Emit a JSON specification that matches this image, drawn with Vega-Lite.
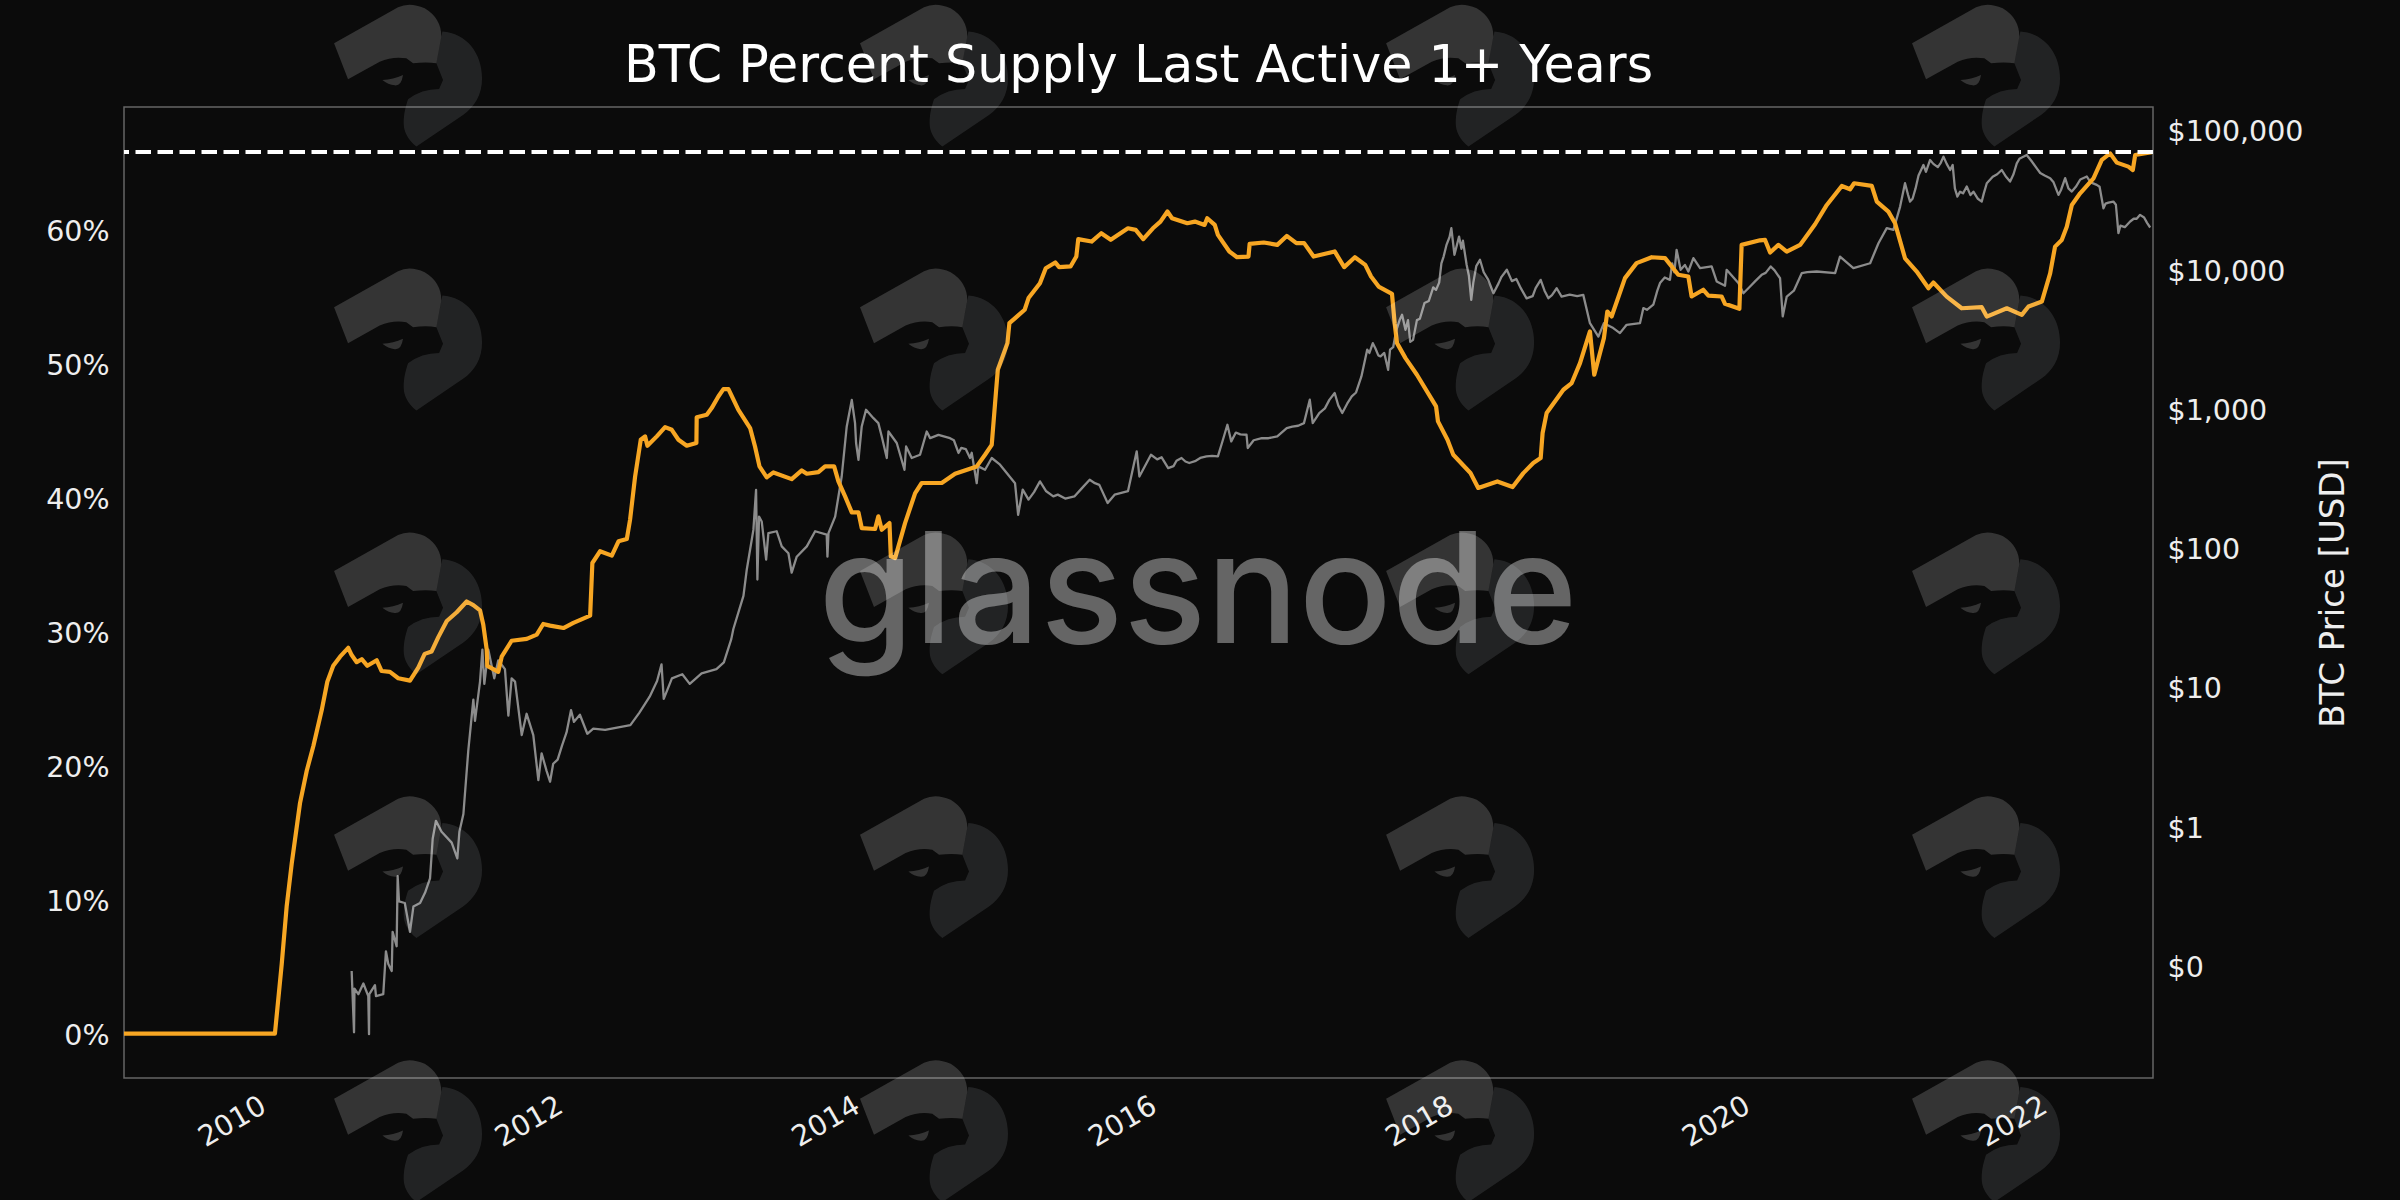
{
  "$schema": "https://vega.github.io/schema/vega-lite/v6.json",
  "background": "#0b0b0b",
  "autosize": {"type": "none"},
  "padding": {"left": 124, "top": 107, "right": 247, "bottom": 122},
  "width": 2029,
  "height": 971,
  "title": {"text": "BTC Percent Supply Last Active 1+ Years", "anchor": "middle", "font": "DejaVu Sans", "fontSize": 50.7, "fontWeight": "normal", "color": "#ffffff", "offset": -88},
  "config": {"view": {"stroke": "#666666", "strokeWidth": 1.5}},
  "datasets": {
    "price": [
      {"year":2010.542,"price":0.091},{"year":2010.558,"price":0.033},{"year":2010.561,"price":0.068},{"year":2010.587,"price":0.062},{"year":2010.621,"price":0.074},{"year":2010.654,"price":0.06},{"year":2010.659,"price":0.032},{"year":2010.661,"price":0.062},{"year":2010.699,"price":0.072},{"year":2010.706,"price":0.06},{"year":2010.755,"price":0.062},{"year":2010.773,"price":0.126},{"year":2010.789,"price":0.102},{"year":2010.812,"price":0.091},{"year":2010.818,"price":0.174},{"year":2010.845,"price":0.137},{"year":2010.852,"price":0.436},{"year":2010.861,"price":0.288},{"year":2010.9,"price":0.28},{"year":2010.935,"price":0.174},{"year":2010.958,"price":0.264},{"year":2011.003,"price":0.28},{"year":2011.037,"price":0.333},{"year":2011.07,"price":0.42},{"year":2011.088,"price":0.81},{"year":2011.11,"price":1.09},{"year":2011.148,"price":0.91},{"year":2011.216,"price":0.76},{"year":2011.254,"price":0.585},{"year":2011.268,"price":0.91},{"year":2011.295,"price":1.22},{"year":2011.328,"price":3.5},{"year":2011.362,"price":8.1},{"year":2011.373,"price":5.7},{"year":2011.407,"price":10.9},{"year":2011.423,"price":18.5},{"year":2011.436,"price":10.5},{"year":2011.463,"price":18.5},{"year":2011.503,"price":11.5},{"year":2011.53,"price":15.5},{"year":2011.575,"price":13.4},{"year":2011.598,"price":6.2},{"year":2011.62,"price":11.5},{"year":2011.643,"price":10.9},{"year":2011.688,"price":4.5},{"year":2011.721,"price":6.4},{"year":2011.766,"price":4.5},{"year":2011.8,"price":2.14},{"year":2011.822,"price":3.33},{"year":2011.856,"price":2.48},{"year":2011.879,"price":2.08},
      {"year":2011.9,"price":2.8},{"year":2011.93,"price":3.0},{"year":2011.96,"price":3.8},{"year":2011.99,"price":4.7},{"year":2012.02,"price":6.8},{"year":2012.04,"price":5.6},{"year":2012.08,"price":6.3},{"year":2012.13,"price":4.6},{"year":2012.17,"price":5.0},{"year":2012.25,"price":4.9},{"year":2012.33,"price":5.1},{"year":2012.42,"price":5.3},{"year":2012.48,"price":6.5},{"year":2012.55,"price":8.5},{"year":2012.6,"price":11},{"year":2012.63,"price":14.5},{"year":2012.645,"price":8.2},{"year":2012.7,"price":11.5},{"year":2012.77,"price":12.3},{"year":2012.82,"price":10.5},{"year":2012.9,"price":12.5},{"year":2013.0,"price":13.4},{"year":2013.05,"price":15},{"year":2013.1,"price":22},
      {"year":2013.114,"price":26},{"year":2013.182,"price":45},{"year":2013.204,"price":69},{"year":2013.249,"price":134},{"year":2013.267,"price":260},{"year":2013.276,"price":59},{"year":2013.287,"price":167},{"year":2013.305,"price":154},{"year":2013.335,"price":82},{"year":2013.35,"price":127},{"year":2013.406,"price":131},{"year":2013.44,"price":102},{"year":2013.485,"price":91},{"year":2013.507,"price":66},{"year":2013.541,"price":86},{"year":2013.609,"price":102},{"year":2013.665,"price":131},{"year":2013.743,"price":124},{"year":2013.748,"price":86},{"year":2013.755,"price":127},{"year":2013.8,"price":167},{"year":2013.844,"price":324},{"year":2013.878,"price":741},{"year":2013.912,"price":1151},{"year":2013.934,"price":783},{"year":2013.941,"price":564},{"year":2013.957,"price":427},{"year":2013.979,"price":741},{"year":2014.008,"price":977},{"year":2014.058,"price":850},{"year":2014.091,"price":783},{"year":2014.114,"price":628},{"year":2014.148,"price":440},{"year":2014.159,"price":682},{"year":2014.215,"price":564},{"year":2014.267,"price":362},{"year":2014.278,"price":532},{"year":2014.316,"price":440},{"year":2014.372,"price":464},{"year":2014.417,"price":682},{"year":2014.44,"price":611},{"year":2014.496,"price":645},{"year":2014.574,"price":611},{"year":2014.631,"price":478},{"year":2014.709,"price":440},{"year":2014.754,"price":290},{"year":2014.765,"price":383},{"year":2014.81,"price":362},{"year":2014.855,"price":440},{"year":2014.911,"price":394},{"year":2015.012,"price":290},{"year":2015.033,"price":172},{"year":2015.064,"price":261},{"year":2015.103,"price":221},{"year":2015.18,"price":299},{"year":2015.27,"price":233},{"year":2015.412,"price":233},{"year":2015.515,"price":307},{"year":2015.58,"price":282},{"year":2015.636,"price":209},{"year":2015.683,"price":240},{"year":2015.773,"price":254},{"year":2015.832,"price":491},{"year":2015.85,"price":324},{"year":2015.928,"price":464},{"year":2016.044,"price":372},{"year":2016.134,"price":440},{"year":2016.186,"price":405},{"year":2016.302,"price":452},{"year":2016.379,"price":452},{"year":2016.443,"price":762},{"year":2016.469,"price":579},{"year":2016.572,"price":646},{"year":2016.58,"price":519},{"year":2016.675,"price":611},{"year":2016.779,"price":628},{"year":2016.843,"price":721},{"year":2016.959,"price":783},{"year":2016.998,"price":1153},{"year":2017.018,"price":783},{"year":2017.062,"price":925},{"year":2017.166,"price":1288},{"year":2017.217,"price":925},{"year":2017.281,"price":1219},{"year":2017.346,"price":1694},{"year":2017.385,"price":2636},{"year":2017.423,"price":2938},{"year":2017.475,"price":2360},{"year":2017.526,"price":1892},{"year":2017.539,"price":2636},{"year":2017.604,"price":4325},{"year":2017.643,"price":3664},{"year":2017.694,"price":3104},{"year":2017.771,"price":5702},{"year":2017.849,"price":7096},{"year":2017.9,"price":12300},{"year":2017.952,"price":19670},{"year":2017.973,"price":12680},{"year":2018.004,"price":17130},{"year":2018.055,"price":10740},{"year":2018.086,"price":6020},{"year":2018.145,"price":11670},{"year":2018.236,"price":6710},{"year":2018.326,"price":9890},{"year":2018.459,"price":6166},{"year":2018.554,"price":8375},{"year":2018.606,"price":6180},{"year":2018.662,"price":7290},{"year":2018.695,"price":6350},{"year":2018.841,"price":6530},{"year":2018.886,"price":4090},{"year":2018.943,"price":3280},{"year":2018.98,"price":4090},{"year":2019.043,"price":3770},{"year":2019.088,"price":3470},{"year":2019.133,"price":3980},{"year":2019.223,"price":4090},{"year":2019.246,"price":5250},{"year":2019.313,"price":5550},{"year":2019.358,"price":7940},{"year":2019.425,"price":8370},{"year":2019.47,"price":13740},{"year":2019.497,"price":9890},{"year":2019.526,"price":10720},{"year":2019.549,"price":9610},{"year":2019.583,"price":12000},{"year":2019.628,"price":10160},{"year":2019.706,"price":10450},{"year":2019.74,"price":8150},{"year":2019.796,"price":7590},{"year":2019.807,"price":9890},{"year":2019.886,"price":7940},{"year":2019.92,"price":6710},{"year":2019.965,"price":7500},{"year":2020.043,"price":9100},{"year":2020.104,"price":10450},{"year":2020.167,"price":8600},{"year":2020.185,"price":4570},{"year":2020.212,"price":6350},{"year":2020.313,"price":9350},{"year":2020.414,"price":9610},{"year":2020.538,"price":9350},{"year":2020.571,"price":12300},{"year":2020.661,"price":10160},{"year":2020.774,"price":11020},{"year":2020.83,"price":15350},{"year":2020.886,"price":19680},{"year":2020.931,"price":19140},{"year":2020.976,"price":28120},{"year":2021.009,"price":41400},{"year":2021.043,"price":30550},{"year":2021.133,"price":55980},{"year":2021.178,"price":60800},{"year":2021.268,"price":64270},{"year":2021.313,"price":51500},{"year":2021.362,"price":33200},{"year":2021.425,"price":39180},{"year":2021.526,"price":30550},{"year":2021.56,"price":41400},{"year":2021.661,"price":51500},{"year":2021.717,"price":42560},{"year":2021.762,"price":57500},{"year":2021.829,"price":66070},{"year":2021.897,"price":52970},{"year":2021.987,"price":44980},{"year":2022.043,"price":34120},{"year":2022.088,"price":44980},{"year":2022.133,"price":36060},{"year":2022.234,"price":46240},{"year":2022.301,"price":40270},{"year":2022.346,"price":27350},{"year":2022.413,"price":30550},{"year":2022.447,"price":18110},{"year":2022.526,"price":21980},{"year":2022.593,"price":24530},{"year":2022.661,"price":19900},
      {"year":2014.6,"price":590},{"year":2014.65,"price":520},{"year":2014.68,"price":510},{"year":2014.72,"price":480},{"year":2015.14,"price":250},{"year":2015.22,"price":255},{"year":2015.3,"price":240},{"year":2015.35,"price":225},{"year":2015.46,"price":265},{"year":2015.55,"price":290},{"year":2015.97,"price":430},{"year":2016.0,"price":445},{"year":2016.08,"price":385},{"year":2016.1,"price":420},{"year":2016.16,"price":415},{"year":2016.23,"price":420},{"year":2016.26,"price":440},{"year":2016.34,"price":455},{"year":2016.41,"price":580},{"year":2016.5,"price":670},{"year":2016.53,"price":650},{"year":2016.62,"price":590},{"year":2016.72,"price":610},{"year":2016.88,"price":740},{"year":2016.92,"price":750},{"year":2017.1,"price":1000},{"year":2017.13,"price":1150},{"year":2017.19,"price":1050},{"year":2017.25,"price":1080},{"year":2017.31,"price":1300},{"year":2017.365,"price":2100},{"year":2017.4,"price":2500},{"year":2017.44,"price":2700},{"year":2017.46,"price":2400},{"year":2017.5,"price":2500},{"year":2017.56,"price":2750},{"year":2017.58,"price":3600},{"year":2017.62,"price":4700},{"year":2017.66,"price":4300},{"year":2017.675,"price":3000},{"year":2017.72,"price":4300},{"year":2017.74,"price":4400},{"year":2017.8,"price":5900},{"year":2017.83,"price":7400},{"year":2017.87,"price":8000},{"year":2017.885,"price":11000},{"year":2017.92,"price":15000},{"year":2017.94,"price":17000},{"year":2018.02,"price":14000},{"year":2018.03,"price":16000},{"year":2018.07,"price":9000},{"year":2018.1,"price":8000},{"year":2018.12,"price":10500},{"year":2018.17,"price":9500},{"year":2018.2,"price":8400},{"year":2018.27,"price":7900},{"year":2018.29,"price":8800},{"year":2018.36,"price":8200},{"year":2018.39,"price":8500},{"year":2018.42,"price":7300},{"year":2018.5,"price":6400},{"year":2018.52,"price":7300},{"year":2018.58,"price":7000},{"year":2018.63,"price":6500},{"year":2018.75,"price":6550},{"year":2018.8,"price":6400},{"year":2019.27,"price":5100},{"year":2019.34,"price":7000},{"year":2019.39,"price":8700},{"year":2019.44,"price":11000},{"year":2019.455,"price":9500},{"year":2020.0,"price":8200},{"year":2020.07,"price":9400},{"year":2020.13,"price":9800},{"year":2020.26,"price":7000},{"year":2020.35,"price":9500},{"year":2021.03,"price":34000},{"year":2021.06,"price":32000},{"year":2021.08,"price":38000},{"year":2021.1,"price":47000},{"year":2021.15,"price":50000},{"year":2021.2,"price":57000},{"year":2021.23,"price":54000},{"year":2021.25,"price":58000},{"year":2021.29,"price":57000},{"year":2021.33,"price":56000},{"year":2021.345,"price":38000},{"year":2021.38,"price":36000},{"year":2021.4,"price":35000},{"year":2021.45,"price":34000},{"year":2021.47,"price":36000},{"year":2021.5,"price":32000},{"year":2021.54,"price":35000},{"year":2021.6,"price":46000},{"year":2021.63,"price":48000},{"year":2021.69,"price":46000},{"year":2021.74,"price":48000},{"year":2021.78,"price":62000},{"year":2021.86,"price":60000},{"year":2021.92,"price":49000},{"year":2021.95,"price":47000},{"year":2022.01,"price":42000},{"year":2022.06,"price":37000},{"year":2022.11,"price":38000},{"year":2022.16,"price":39000},{"year":2022.19,"price":44000},{"year":2022.26,"price":42000},{"year":2022.32,"price":39000},{"year":2022.36,"price":29500},{"year":2022.38,"price":30000},{"year":2022.43,"price":29000},{"year":2022.46,"price":20500},{"year":2022.49,"price":20000},{"year":2022.55,"price":23000},{"year":2022.57,"price":23000},{"year":2022.62,"price":23500},{"year":2022.64,"price":21500}
    ],
    "supply": [
      {"year":2009.008,"pct":0},{"year":2010.025,"pct":0},{"year":2010.071,"pct":5.22},{"year":2010.104,"pct":9.48},{"year":2010.138,"pct":12.68},{"year":2010.194,"pct":17.2},{"year":2010.239,"pct":19.6},{"year":2010.284,"pct":21.47},{"year":2010.34,"pct":24.13},{"year":2010.378,"pct":26.26},{"year":2010.418,"pct":27.45},{"year":2010.464,"pct":28.13},{"year":2010.519,"pct":28.79},{"year":2010.542,"pct":28.25},{"year":2010.576,"pct":27.72},{"year":2010.61,"pct":27.94},{"year":2010.648,"pct":27.45},{"year":2010.711,"pct":27.86},{"year":2010.744,"pct":27.06},{"year":2010.8,"pct":27.0},{"year":2010.856,"pct":26.52},{"year":2010.935,"pct":26.34},{"year":2010.991,"pct":27.32},{"year":2011.034,"pct":28.34},{"year":2011.081,"pct":28.52},{"year":2011.126,"pct":29.59},{"year":2011.183,"pct":30.79},{"year":2011.25,"pct":31.45},{"year":2011.317,"pct":32.25},{"year":2011.362,"pct":31.98},{"year":2011.407,"pct":31.59},{"year":2011.429,"pct":30.52},{"year":2011.452,"pct":28.66},{"year":2011.456,"pct":27.45},{"year":2011.53,"pct":27.0},{"year":2011.553,"pct":28.13},{"year":2011.62,"pct":29.32},{"year":2011.722,"pct":29.46},{"year":2011.789,"pct":29.78},{"year":2011.833,"pct":30.57},{"year":2011.879,"pct":30.45},{"year":2011.969,"pct":30.27},{"year":2012.036,"pct":30.65},{"year":2012.149,"pct":31.19},{"year":2012.164,"pct":35.12},{"year":2012.216,"pct":36.0},{"year":2012.295,"pct":35.67},{"year":2012.34,"pct":36.74},{"year":2012.396,"pct":36.91},{"year":2012.418,"pct":38.35},{"year":2012.452,"pct":41.58},{"year":2012.49,"pct":44.32},{"year":2012.519,"pct":44.57},{"year":2012.535,"pct":43.87},{"year":2012.598,"pct":44.57},{"year":2012.654,"pct":45.26},{"year":2012.699,"pct":45.06},{"year":2012.744,"pct":44.32},{"year":2012.8,"pct":43.87},{"year":2012.865,"pct":44.07},{"year":2012.867,"pct":46.0},{"year":2012.935,"pct":46.18},{"year":2012.968,"pct":46.68},{"year":2013.013,"pct":47.55},{"year":2013.047,"pct":48.1},{"year":2013.081,"pct":48.1},{"year":2013.148,"pct":46.55},{"year":2013.227,"pct":45.19},{"year":2013.26,"pct":43.82},{"year":2013.29,"pct":42.33},{"year":2013.339,"pct":41.51},{"year":2013.384,"pct":41.88},{"year":2013.507,"pct":41.38},{"year":2013.575,"pct":42.03},{"year":2013.609,"pct":41.78},{"year":2013.687,"pct":41.9},{"year":2013.732,"pct":42.33},{"year":2013.793,"pct":42.33},{"year":2013.822,"pct":41.21},{"year":2013.867,"pct":40.09},{"year":2013.912,"pct":38.9},{"year":2013.957,"pct":38.9},{"year":2013.979,"pct":37.73},{"year":2014.069,"pct":37.66},{"year":2014.091,"pct":38.6},{"year":2014.114,"pct":37.6},{"year":2014.166,"pct":38.1},{"year":2014.175,"pct":35.62},{"year":2014.204,"pct":35.49},{"year":2014.271,"pct":38.1},{"year":2014.339,"pct":40.34},{"year":2014.383,"pct":41.09},{"year":2014.518,"pct":41.09},{"year":2014.608,"pct":41.78},{"year":2014.754,"pct":42.33},{"year":2014.81,"pct":43.2},{"year":2014.855,"pct":43.94},{"year":2014.883,"pct":47.8},{"year":2014.896,"pct":49.54},{"year":2014.961,"pct":51.53},{"year":2014.974,"pct":53.02},{"year":2015.077,"pct":54.02},{"year":2015.103,"pct":54.89},{"year":2015.18,"pct":56.0},{"year":2015.219,"pct":57.12},{"year":2015.283,"pct":57.55},{"year":2015.309,"pct":57.2},{"year":2015.386,"pct":57.25},{"year":2015.425,"pct":57.99},{"year":2015.438,"pct":59.29},{"year":2015.528,"pct":59.11},{"year":2015.593,"pct":59.73},{"year":2015.657,"pct":59.24},{"year":2015.773,"pct":60.1},{"year":2015.825,"pct":59.98},{"year":2015.876,"pct":59.29},{"year":2015.941,"pct":60.1},{"year":2015.992,"pct":60.6},{"year":2016.039,"pct":61.35},{"year":2016.07,"pct":60.85},{"year":2016.173,"pct":60.48},{"year":2016.224,"pct":60.6},{"year":2016.289,"pct":60.35},{"year":2016.307,"pct":60.85},{"year":2016.358,"pct":60.35},{"year":2016.379,"pct":59.61},{"year":2016.456,"pct":58.37},{"year":2016.508,"pct":57.94},{"year":2016.585,"pct":57.99},{"year":2016.593,"pct":58.94},{"year":2016.688,"pct":59.04},{"year":2016.779,"pct":58.86},{"year":2016.843,"pct":59.53},{"year":2016.908,"pct":58.99},{"year":2016.96,"pct":58.99},{"year":2017.024,"pct":57.99},{"year":2017.166,"pct":58.37},{"year":2017.23,"pct":57.2},{"year":2017.302,"pct":57.94},{"year":2017.372,"pct":57.37},{"year":2017.411,"pct":56.5},{"year":2017.462,"pct":55.75},{"year":2017.552,"pct":55.21},{"year":2017.57,"pct":53.02},{"year":2017.586,"pct":51.53},{"year":2017.643,"pct":50.41},{"year":2017.72,"pct":49.17},{"year":2017.849,"pct":46.81},{"year":2017.862,"pct":45.69},{"year":2017.926,"pct":44.32},{"year":2017.965,"pct":43.2},{"year":2018.081,"pct":41.84},{"year":2018.133,"pct":40.72},{"year":2018.262,"pct":41.21},{"year":2018.365,"pct":40.79},{"year":2018.437,"pct":41.83},{"year":2018.504,"pct":42.58},{"year":2018.554,"pct":42.95},{"year":2018.567,"pct":44.82},{"year":2018.594,"pct":46.31},{"year":2018.707,"pct":48.05},{"year":2018.763,"pct":48.55},{"year":2018.819,"pct":50.04},{"year":2018.886,"pct":52.4},{"year":2018.915,"pct":49.17},{"year":2018.98,"pct":51.9},{"year":2019.003,"pct":53.89},{"year":2019.032,"pct":53.52},{"year":2019.122,"pct":56.38},{"year":2019.2,"pct":57.5},{"year":2019.302,"pct":57.94},{"year":2019.392,"pct":57.87},{"year":2019.481,"pct":56.63},{"year":2019.549,"pct":56.5},{"year":2019.571,"pct":55.01},{"year":2019.65,"pct":55.51},{"year":2019.684,"pct":55.08},{"year":2019.773,"pct":55.01},{"year":2019.796,"pct":54.46},{"year":2019.893,"pct":54.09},{"year":2019.908,"pct":58.86},{"year":2020.032,"pct":59.2},{"year":2020.066,"pct":59.23},{"year":2020.1,"pct":58.29},{"year":2020.156,"pct":58.86},{"year":2020.212,"pct":58.36},{"year":2020.302,"pct":58.86},{"year":2020.403,"pct":60.4},{"year":2020.482,"pct":61.84},{"year":2020.583,"pct":63.26},{"year":2020.639,"pct":63.01},{"year":2020.666,"pct":63.46},{"year":2020.785,"pct":63.26},{"year":2020.819,"pct":62.09},{"year":2020.897,"pct":61.34},{"year":2020.942,"pct":60.47},{"year":2021.009,"pct":57.86},{"year":2021.088,"pct":56.87},{"year":2021.167,"pct":55.63},{"year":2021.2,"pct":56.05},{"year":2021.29,"pct":55.0},{"year":2021.391,"pct":54.13},{"year":2021.526,"pct":54.21},{"year":2021.56,"pct":53.51},{"year":2021.695,"pct":54.13},{"year":2021.796,"pct":53.64},{"year":2021.841,"pct":54.26},{"year":2021.931,"pct":54.63},{"year":2021.987,"pct":56.74},{"year":2022.02,"pct":58.73},{"year":2022.065,"pct":59.23},{"year":2022.099,"pct":60.22},{"year":2022.133,"pct":61.84},{"year":2022.189,"pct":62.71},{"year":2022.279,"pct":63.83},{"year":2022.335,"pct":65.2},{"year":2022.391,"pct":65.69},{"year":2022.436,"pct":65.0},{"year":2022.514,"pct":64.7},{"year":2022.544,"pct":64.45},{"year":2022.56,"pct":65.57},{"year":2022.672,"pct":65.77}
    ],
    "logos": [
      {"year":2010.922,"pct":71.54},{"year":2014.466,"pct":71.54},{"year":2018.011,"pct":71.54},{"year":2021.555,"pct":71.54},
      {"year":2010.922,"pct":51.85},{"year":2014.466,"pct":51.85},{"year":2018.011,"pct":51.85},{"year":2021.555,"pct":51.85},
      {"year":2010.922,"pct":32.16},{"year":2014.466,"pct":32.16},{"year":2018.011,"pct":32.16},{"year":2021.555,"pct":32.16},
      {"year":2010.922,"pct":12.48},{"year":2014.466,"pct":12.48},{"year":2018.011,"pct":12.48},{"year":2021.555,"pct":12.48},
      {"year":2010.922,"pct":-7.22},{"year":2014.466,"pct":-7.22},{"year":2018.011,"pct":-7.22},{"year":2021.555,"pct":-7.22}
    ]
  },
  "encoding": {
    "x": {
      "field": "year", "type": "quantitative", "title": null,
      "scale": {"domain": [2009.008, 2022.68], "nice": false, "zero": false},
      "axis": {"values": [2010, 2012, 2014, 2016, 2018, 2020, 2022], "format": "d", "labelAngle": -30, "labelAlign": "right", "labelBaseline": "middle", "labelPadding": 25, "labelOffset": -8, "tickSize": 0, "domain": false, "grid": false, "labelFont": "DejaVu Sans", "labelFontSize": 28.5, "labelColor": "#eeeeee"}
    }
  },
  "layer": [
    {
      "data": {"name": "price"},
      "mark": {"type": "line", "color": "#8c8c8c", "strokeWidth": 2.3, "strokeJoin": "round"},
      "encoding": {
        "y": {
          "field": "price", "type": "quantitative", "title": "BTC Price [USD]",
          "scale": {"type": "log", "domain": [0.0155, 146000], "nice": false},
          "axis": {"orient": "right", "values": [0.1, 1, 10, 100, 1000, 10000, 100000], "labelExpr": "datum.value < 1 ? '$0' : '$' + format(datum.value, ',.0f')", "tickSize": 0, "domain": false, "grid": false, "labelPadding": 14, "labelOffset": 2, "labelFont": "DejaVu Sans", "labelFontSize": 28.5, "labelColor": "#eeeeee", "titleFont": "DejaVu Sans", "titleFontSize": 34, "titleFontWeight": "normal", "titleColor": "#eeeeee", "titleAngle": 270, "titlePadding": 48}
        }
      }
    },
    {
      "encoding": {
        "y": {
          "field": "pct", "type": "quantitative", "title": null,
          "scale": {"domain": [-3.31, 69.15], "nice": false, "zero": false},
          "axis": {"values": [0, 10, 20, 30, 40, 50, 60], "labelExpr": "datum.value + '%'", "tickSize": 0, "domain": false, "grid": false, "labelPadding": 15, "labelOffset": 2, "labelFont": "DejaVu Sans", "labelFontSize": 28.5, "labelColor": "#eeeeee"}
        }
      },
      "layer": [
        {
          "data": {"name": "supply"},
          "mark": {"type": "line", "color": "#f7a623", "strokeWidth": 4.2, "strokeJoin": "round"}
        },
        {
          "data": {"values": [{"pct": 65.8}]},
          "mark": {"type": "rule", "color": "#ffffff", "strokeWidth": 4, "strokeDash": [15.5, 6.5]},
          "encoding": {"x": null}
        },
        {
          "data": {"values": [{"year": 2016.245, "pct": 29.18, "label": "glassnode"}]},
          "mark": {"type": "text", "font": "Inter", "fontWeight": 500, "fontSize": 154, "align": "center", "baseline": "alphabetic", "color": "#ffffff", "opacity": 0.37},
          "encoding": {"text": {"field": "label"}}
        },
        {
          "data": {"name": "logos"},
          "mark": {"type": "point", "filled": true, "size": 21904, "opacity": 0.11, "color": "#e6ecf5", "strokeWidth": 0, "shape": "M0.464,-0.586C0.788,-0.563,1,-0.293,1,0.045C1,0.27,0.9,0.428,0.743,0.541L0.113,0.968C0,0.878,-0.059,0.766,-0.059,0.653C-0.059,0.518,-0.03,0.42,0,0.329Q0.18,0.19,0.42,0.19L0.473,0.068L0.383,-0.158Z"}
        },
        {
          "data": {"name": "logos"},
          "mark": {"type": "point", "filled": true, "size": 21904, "opacity": 0.17, "color": "#ffffff", "strokeWidth": 0, "shape": "M-1,-0.428L-0.135,-0.914Q0.023,-0.991,0.225,-0.901Q0.45,-0.766,0.45,-0.518L0.383,-0.158Q0.248,-0.18,0.068,-0.158L-0.023,-0.225Q-0.203,-0.257,-0.383,-0.18L-0.811,0.059ZM-0.347,0.068Q-0.2,0.06,-0.068,0Q-0.09,0.15,-0.18,0.14Q-0.27,0.13,-0.347,0.068Z"}
        }
      ]
    }
  ],
  "resolve": {"scale": {"y": "independent"}, "axis": {"y": "independent"}}
}
